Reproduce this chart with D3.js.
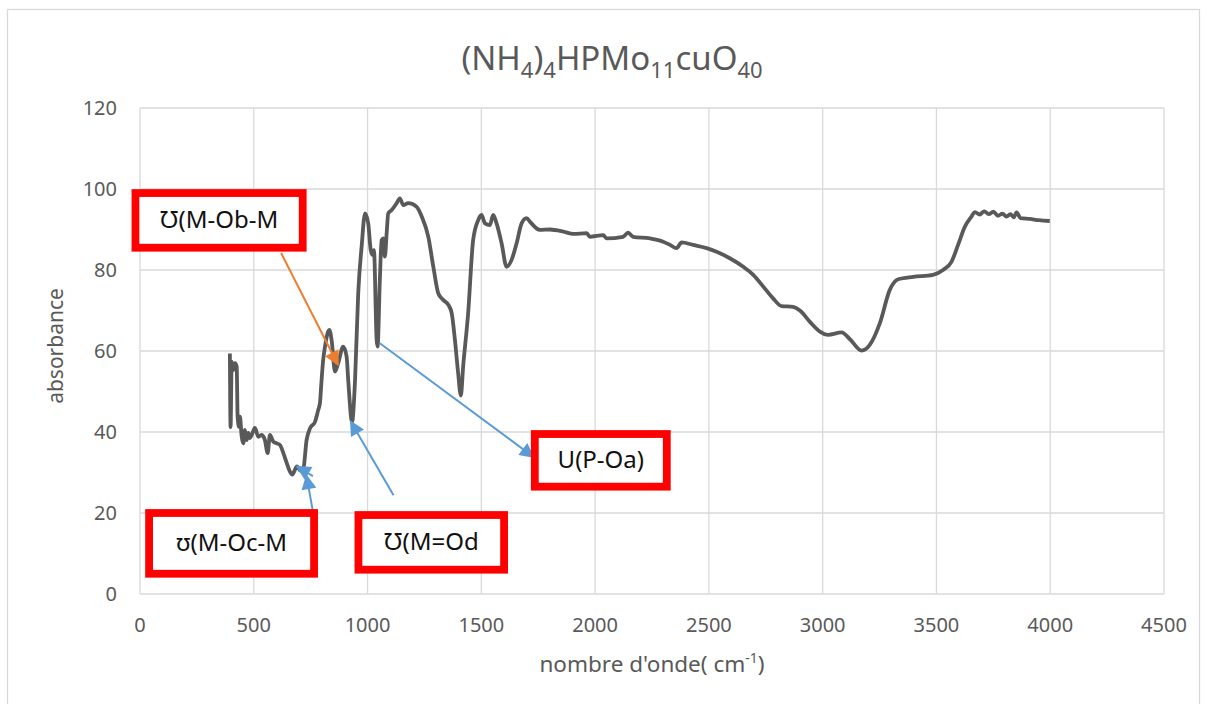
<!DOCTYPE html>
<html>
<head>
<meta charset="utf-8">
<script src="https://cdn.jsdelivr.net/npm/d3@7"></script>
<style>
  body { margin: 0; background: #fff; }
  svg { font-family: "Noto Sans", "Open Sans", sans-serif; }
</style>
</head>
<body>
<svg id="chart" width="1207" height="704"></svg>
<script>
const nombreOnde = [395, 398, 403, 410, 417, 425, 429, 435, 439, 447, 454, 461, 469, 476, 483, 491,
  505, 520, 535, 549, 561, 571, 586, 601, 615, 630, 645, 659, 669, 690, 705, 718,
  732, 747, 769, 783, 791, 795, 805, 813, 832, 842, 857, 871, 893, 908, 915, 932,
  945, 959, 974, 989, 1003, 1014, 1022, 1028, 1040, 1044, 1054, 1062, 1069, 1076, 1084, 1091,
  1106, 1128, 1142, 1157, 1179, 1216, 1238, 1267, 1289, 1311, 1333, 1355, 1370, 1384, 1398, 1410,
  1420, 1442, 1464, 1486, 1501, 1516, 1538, 1552, 1567, 1589, 1611, 1633, 1655, 1677, 1699, 1714,
  1757, 1801, 1860, 1904, 1963, 1977, 2036, 2050, 2123, 2145, 2167, 2241, 2299, 2329, 2358, 2380,
  2431, 2490, 2534, 2592, 2651, 2695, 2739, 2782, 2819, 2870, 2900, 2944, 2988, 3024, 3083, 3120,
  3171, 3207, 3251, 3295, 3332, 3398, 3485, 3529, 3566, 3595, 3625, 3654, 3669, 3690, 3710, 3730,
  3750, 3770, 3790, 3808, 3825, 3840, 3852, 3870, 3910, 3950, 3998];
const absorbance = [59.4, 41.2, 57.4, 55.3, 57.0, 56.1, 43.8, 41.3, 43.8, 38.8, 37.2, 40.5, 38.0, 39.8, 38.5, 39.3,
  41.0, 38.8, 39.3, 38.0, 34.8, 39.3, 37.6, 37.2, 36.8, 34.8, 32.3, 30.2, 29.5, 31.5, 30.5, 31.0,
  38.0, 40.9, 42.5, 45.4, 47.2, 50.4, 57.8, 61.1, 65.2, 62.7, 54.9, 57.0, 61.1, 58.6, 52.8, 42.5,
  52.8, 74.3, 85.8, 94.0, 91.5, 84.9, 83.7, 84.9, 62.7, 61.1, 77.5, 87.4, 87.8, 83.3, 89.1, 94.0,
  94.8, 96.5, 97.7, 96.0, 96.5, 95.6, 93.2, 88.2, 80.8, 74.2, 72.6, 71.4, 69.3, 62.7, 54.6, 49.0,
  56.1, 69.3, 87.4, 92.3, 93.6, 91.5, 91.1, 93.6, 91.5, 86.6, 80.8, 82.5, 86.6, 91.5, 92.8, 91.9,
  89.9, 90.0, 89.5, 88.9, 89.1, 88.2, 88.6, 87.8, 88.2, 89.2, 88.2, 87.8, 87.0, 86.2, 85.4, 86.8,
  86.2, 85.4, 84.5, 82.9, 80.8, 78.8, 75.9, 73.0, 71.1, 70.9, 70.0, 67.2, 64.8, 64.0, 64.6, 62.9,
  60.1, 61.5, 66.8, 75.1, 77.7, 78.3, 78.8, 80.0, 82.0, 86.2, 90.7, 93.2, 94.3, 93.7, 94.5, 93.8,
  94.4, 93.4, 93.9, 93.2, 93.8, 93.0, 94.2, 92.8, 92.6, 92.3, 92.1];

const xTicks = [0, 500, 1000, 1500, 2000, 2500, 3000, 3500, 4000, 4500];
const yTicks = [0, 20, 40, 60, 80, 100, 120];

// annotations : texte, boite, fleches [depart, arrivee] en donnees
const etiquettes = [
  { texte: "\u01B1(M-Ob-M", x1: -20, x2: 715, y1: 99, y2: 85.5 },
  { texte: "\u028A(M-Oc-M", x1: 40, x2: 765, y1: 20, y2: 5 },
  { texte: "\u01B1(M=Od", x1: 960, x2: 1600, y1: 19.5, y2: 6 },
  { texte: "U(P-Oa)", x1: 1735, x2: 2315, y1: 39.5, y2: 26.5 }
];
const fleches = [
  { de: [620, 84.2], a: [870, 56.6], couleur: "#ED7D31" },
  { de: [760, 20.3], a: [732, 29.2], couleur: "#5B9BD5" },
  { de: [760, 29.1], a: [690, 31.5], couleur: "#5B9BD5" },
  { de: [1114, 24.4], a: [926, 42.6], couleur: "#5B9BD5" },
  { de: [1054, 61.9], a: [1730, 33.8], couleur: "#5B9BD5" }
];

const svg = d3.select("#chart");
const gris = "#595959";

// cadre du graphique
svg.append("rect")
  .attr("x", 7.5).attr("y", 9.5)
  .attr("width", 1192).attr("height", 702)
  .attr("fill", "none").attr("stroke", "#d9d9d9").attr("stroke-width", 1.3);

const x = d3.scaleLinear().domain([0, 4500]).range([140, 1164]);
const y = d3.scaleLinear().domain([0, 120]).range([594, 108]);

// grille
svg.append("g").selectAll("line").data(xTicks).join("line")
  .attr("x1", d => x(d)).attr("x2", d => x(d))
  .attr("y1", y(0)).attr("y2", y(120))
  .attr("stroke", "#d9d9d9").attr("stroke-width", 1.3);
svg.append("g").selectAll("line").data(yTicks).join("line")
  .attr("x1", x(0)).attr("x2", x(4500))
  .attr("y1", d => y(d)).attr("y2", d => y(d))
  .attr("stroke", "#d9d9d9").attr("stroke-width", 1.3);

// graduations
svg.append("g").selectAll("text").data(xTicks).join("text")
  .attr("x", d => x(d)).attr("y", 632)
  .attr("text-anchor", "middle")
  .attr("font-size", 20).attr("fill", gris)
  .text(d => d);
svg.append("g").selectAll("text").data(yTicks).join("text")
  .attr("x", 117).attr("y", d => y(d) + 7)
  .attr("text-anchor", "end")
  .attr("font-size", 20).attr("fill", gris)
  .text(d => d);

// titre
const titre = svg.append("text")
  .attr("x", 612).attr("y", 70)
  .attr("text-anchor", "middle")
  .attr("font-size", 33).attr("fill", gris);
[["(NH", 0], ["4", 1], [")", 0], ["4", 1], ["HPMo", 0], ["11", 1], ["cuO", 0], ["40", 1]]
  .forEach(([t, sub], i, arr) => {
    const prev = i > 0 ? arr[i - 1][1] : 0;
    titre.append("tspan")
      .attr("dy", sub && !prev ? 8 : (!sub && prev ? -8 : 0))
      .attr("font-size", sub ? 22 : 33)
      .text(t);
  });

// titres des axes
svg.append("text")
  .attr("transform", "translate(63,346) rotate(-90)")
  .attr("text-anchor", "middle")
  .attr("font-size", 21).attr("fill", gris)
  .text("absorbance");
const titreX = svg.append("text")
  .attr("x", 652).attr("y", 672)
  .attr("text-anchor", "middle")
  .attr("font-size", 22.5).attr("fill", gris);
titreX.append("tspan").text("nombre d'onde( cm");
titreX.append("tspan").attr("dy", -9).attr("font-size", 14).text("-1");
titreX.append("tspan").attr("dy", 9).text(")");

// spectre
const points = nombreOnde.map((d, i) => [d, absorbance[i]]);
svg.append("path")
  .datum(points)
  .attr("fill", "none")
  .attr("stroke", gris)
  .attr("stroke-width", 3.8)
  .attr("stroke-linejoin", "round")
  .attr("d", d3.line().x(d => x(d[0])).y(d => y(d[1])).curve(d3.curveMonotoneX));

// fleches
const defs = svg.append("defs");
fleches.forEach((f, i) => {
  defs.append("marker")
    .attr("id", "pointe" + i)
    .attr("viewBox", "0 0 10 10")
    .attr("refX", 9).attr("refY", 5)
    .attr("markerWidth", 8).attr("markerHeight", 7.5)
    .attr("markerUnits", "strokeWidth")
    .attr("orient", "auto")
    .append("path").attr("d", "M0,0 L10,5 L0,10 Z").attr("fill", f.couleur);
  svg.append("line")
    .attr("x1", x(f.de[0])).attr("y1", y(f.de[1]))
    .attr("x2", x(f.a[0])).attr("y2", y(f.a[1]))
    .attr("stroke", f.couleur).attr("stroke-width", 2)
    .attr("marker-end", "url(#pointe" + i + ")");
});

// boites rouges
etiquettes.forEach(e => {
  const bx = x(e.x1), by = y(e.y1);
  const w = x(e.x2) - bx, h = y(e.y2) - by;
  svg.append("rect")
    .attr("x", bx).attr("y", by).attr("width", w).attr("height", h)
    .attr("fill", "#fff").attr("stroke", "#ff0000").attr("stroke-width", 7.8);
  svg.append("text")
    .attr("x", bx + w / 2).attr("y", by + h / 2 + 8)
    .attr("text-anchor", "middle")
    .attr("font-size", 24).attr("fill", "#111")
    .text(e.texte);
});
</script>
</body>
</html>
